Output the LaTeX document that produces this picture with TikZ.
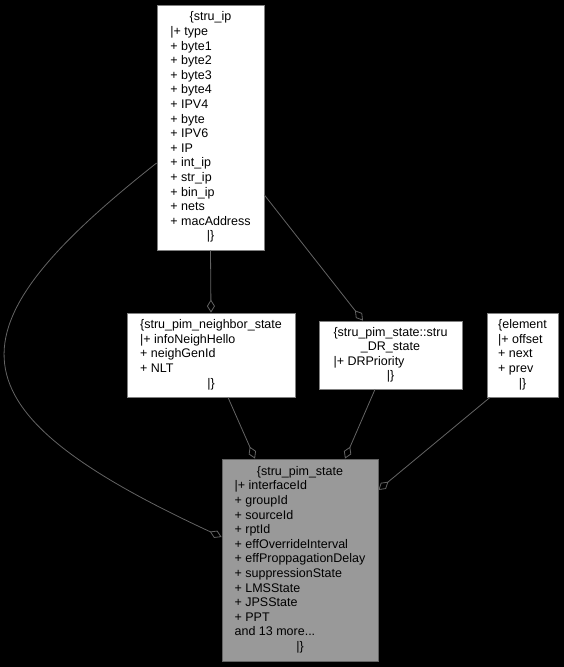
\documentclass[tikz,border=0pt]{standalone}
\usepackage{fontspec}
\setmainfont{Liberation Sans}
\usetikzlibrary{arrows.meta}
\definecolor{dxedge}{HTML}{646464}
\definecolor{dxline}{HTML}{808080}
\definecolor{dxfill}{HTML}{999999}
\newcommand{\ctr}[1]{\multicolumn{1}{@{}c@{}}{#1}}

\begin{document}
\begin{tikzpicture}[
    x=1pt, y=-1pt,
    cls/.style={rectangle, draw=dxline, fill=white, line width=0.8pt,
                inner sep=0pt, font=\fontsize{12.5}{14.6}\selectfont},
    cur/.style={cls, fill=dxfill, draw=dxedge},
    agg/.style={draw=dxedge, line width=0.8pt,
                -{Diamond[open, length=13pt, width=8pt]}}
  ]

  % ---- Background ----
  \useasboundingbox (0,0) rectangle (564,667);
  \fill[black] (0,0) rectangle (564,667);

  % ---- stru_ip (top) ----
  \node[cls, minimum width=107pt, minimum height=245pt] (ip) at (210.5,127.5)
    {\begin{tabular}{@{}l@{}}
      \ctr{\{stru\_ip}\\
      |+ type\\ + byte1\\ + byte2\\ + byte3\\ + byte4\\ + IPV4\\ + byte\\
      + IPV6\\ + IP\\ + int\_ip\\ + str\_ip\\ + bin\_ip\\ + nets\\
      + macAddress\\
      \ctr{|\}}
    \end{tabular}};

  % ---- middle row ----
  \node[cls, minimum width=168pt, minimum height=84pt] (nb) at (211,355)
    {\begin{tabular}{@{}l@{}}
      \ctr{\{stru\_pim\_neighbor\_state}\\
      |+ infoNeighHello\\ + neighGenId\\ + NLT\\
      \ctr{|\}}
    \end{tabular}};
  \node[cls, minimum width=143pt, minimum height=68pt] (dr) at (390.5,355)
    {\begin{tabular}{@{}l@{}}
      \ctr{\{stru\_pim\_state::stru}\\
      \ctr{\_DR\_state}\\
      |+ DRPriority\\
      \ctr{|\}}
    \end{tabular}};
  \node[cls, minimum width=71pt, minimum height=84pt] (el) at (522.5,355)
    {\begin{tabular}{@{}l@{}}
      \ctr{\{element}\\
      |+ offset\\ + next\\ + prev\\
      \ctr{|\}}
    \end{tabular}};

  % ---- stru_pim_state (bottom) ----
  \node[cur, minimum width=156pt, minimum height=202pt] (pim) at (300,560)
    {\begin{tabular}{@{}l@{}}
      \ctr{\{stru\_pim\_state}\\
      |+ interfaceId\\ + groupId\\ + sourceId\\ + rptId\\
      + effOverrideInterval\\ + effProppagationDelay\\
      + suppressionState\\ + LMSState\\ + JPSState\\ + PPT\\
      and 13 more...\\
      \ctr{|\}}
    \end{tabular}};

  % ---- connectors ----
  \draw[agg] (ip.south) -- (nb.north);
  \draw[agg] ([yshift=-67.5pt]ip.east) -- ([xshift=-27.5pt]dr.north);
  \draw[agg] ([yshift=-35.5pt]ip.west) .. controls (-55,330) and (-55,409)
    .. ([yshift=23pt]pim.west);
  \draw[agg] ([xshift=17pt]nb.south) -- ([xshift=-45pt]pim.north);
  \draw[agg] ([xshift=-15.5pt]dr.south) -- ([xshift=45pt]pim.north);
  \draw[agg] ([xshift=-32.5pt]el.south) -- ([yshift=70pt]pim.east);

\end{tikzpicture}
\end{document}
